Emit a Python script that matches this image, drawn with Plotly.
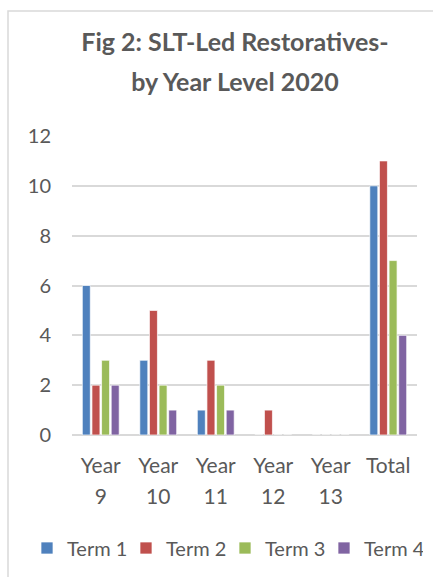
import plotly.graph_objects as go

# Restorative conferences led by senior leadership, counted per term
categories = ["Year 9", "Year 10", "Year 11", "Year 12", "Year 13", "Total"]
tick_labels = ["Year<br>9", "Year<br>10", "Year<br>11", "Year<br>12", "Year<br>13", "Total<br> "]
term1 = [6, 3, 1, 0, 0, 10]
term2 = [2, 5, 3, 1, 0, 11]
term3 = [3, 2, 2, 0, 0, 7]
term4 = [2, 1, 1, 0, 0, 4]

series = [
    ("Term 1", term1, "#4F81BD"),
    ("Term 2", term2, "#C0504D"),
    ("Term 3", term3, "#9BBB59"),
    ("Term 4", term4, "#8064A2"),
]

TEXT = "#595959"
GRID = "#D9D9D9"
FONT = "Lato, 'Open Sans', sans-serif"

fig = go.Figure()
for name, vals, color in series:
    fig.add_trace(go.Bar(
        x=categories, y=vals, name=name,
        marker=dict(color=color, line=dict(color="rgba(255,255,255,0.7)", width=1)),
    ))

W, H = 433, 577
L, R, T, B = 72, 16, 136, 142
pw, ph = W - L - R, H - T - B


def px_x(x):
    return (x - L) / pw


def px_y(y):
    return (H - B - y) / ph


def sized(text, size):
    # wrap each line in a span so the glyph size can differ from the line pitch
    return "<br>".join("<span style='font-size:%dpx'>%s</span>" % (size, part)
                       for part in text.split("<br>"))


# chart-area border (left and top edges visible)
fig.add_shape(type="rect", xref="paper", yref="paper",
              x0=px_x(8), x1=px_x(440), y0=px_y(590), y1=px_y(11),
              line=dict(color=GRID, width=1.5), fillcolor="rgba(0,0,0,0)", layer="below")

fig.update_layout(
    width=W, height=H,
    margin=dict(l=L, r=R, t=T, b=B, autoexpand=False),
    paper_bgcolor="white", plot_bgcolor="white",
    font=dict(family=FONT, color=TEXT),
    title=dict(
        text="<b>" + sized("Fig 2: SLT-Led Restoratives-<br>by Year Level 2020", 25) + "</b>",
        x=px_x(235), xref="paper", xanchor="center",
        y=1 - 51 / H, yanchor="middle",
        font=dict(family=FONT, size=31, color=TEXT),
    ),
    barmode="group", bargap=0.33, bargroupgap=0.17,
    showlegend=True,
    legend=dict(
        orientation="h", x=px_x(27), xanchor="left", y=px_y(548), yanchor="middle",
        font=dict(family=FONT, size=20, color=TEXT),
        traceorder="normal", itemwidth=30,
        entrywidth=54, entrywidthmode="pixels",
    ),
)

fig.update_yaxes(
    range=[0, 12], dtick=2, tick0=0,
    showgrid=True, gridcolor=GRID, gridwidth=1.5,
    zeroline=True, zerolinecolor=GRID, zerolinewidth=1.5,
    showline=False, ticks="", ticklabelstandoff=20,
    tickfont=dict(family=FONT, size=20, color=TEXT),
    fixedrange=True,
)
fig.update_xaxes(
    tickmode="array", tickvals=categories,
    ticktext=[sized(t, 21) for t in tick_labels],
    showline=False, ticks="", showgrid=False,
    tickfont=dict(family=FONT, size=24, color=TEXT),
    ticklabelstandoff=13,
    fixedrange=True,
)

fig.write_html("out.html")
